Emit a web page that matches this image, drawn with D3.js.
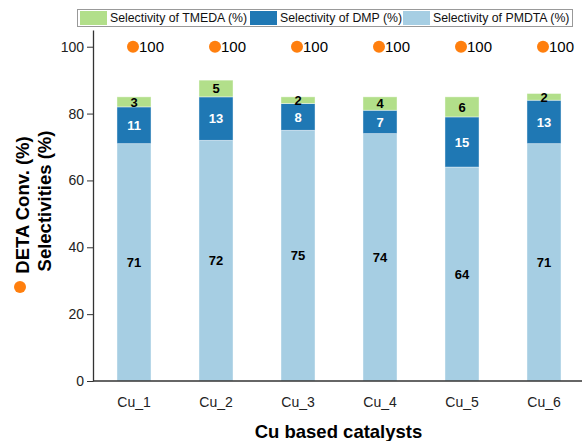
<!DOCTYPE html>
<html>
<head>
<meta charset="utf-8">
<script src="https://cdn.jsdelivr.net/npm/d3@7"></script>
<style>
  body { margin: 0; background: #fff; }
  text { font-family: "Liberation Sans", Arial, sans-serif; }
</style>
</head>
<body>
<script>
// chart size
const w = 582;
const h = 441;

// data
const catalysts = ["Cu_1", "Cu_2", "Cu_3", "Cu_4", "Cu_5", "Cu_6"];
const pmdta = [71, 72, 75, 74, 64, 71];
const dmp = [11, 13, 8, 7, 15, 13];
const tmeda = [3, 5, 2, 4, 6, 2];
const conversion = [100, 100, 100, 100, 100, 100];
const yTicks = [0, 20, 40, 60, 80, 100];

const seriesNames = ["Selectivity of TMEDA (%)", "Selectivity of DMP (%)", "Selectivity of PMDTA (%)"];
const seriesColors = ["#b2df8a", "#1f78b4", "#a6cee3"];

// plot edges
const padLeft = 93, padRight = 585, padTop = 30, padBottom = 381;

const svg = d3.select("body").append("svg")
    .attr("width", w)
    .attr("height", h);

// scales
const x = d3.scaleBand()
    .domain(catalysts)
    .range([padLeft, padRight])
    .paddingInner(0.585)
    .paddingOuter(0.2925);

const y = d3.scaleLinear()
    .domain([0, 105])
    .range([padBottom, padTop]);

// stack the three series
const rows = catalysts.map((c, i) => ({ cat: c, pmdta: pmdta[i], dmp: dmp[i], tmeda: tmeda[i] }));
const stack = d3.stack().keys(["pmdta", "dmp", "tmeda"])(rows);
const colorOf = { pmdta: "#a6cee3", dmp: "#1f78b4", tmeda: "#b2df8a" };
const labelColor = { pmdta: "#000", dmp: "#fff", tmeda: "#000" };

const layers = svg.selectAll("g.layer")
    .data(stack)
    .enter()
    .append("g")
    .attr("class", "layer")
    .attr("fill", d => colorOf[d.key]);

layers.selectAll("rect")
    .data(d => d)
    .enter()
    .append("rect")
    .attr("x", d => x(d.data.cat))
    .attr("y", d => y(d[1]))
    .attr("width", x.bandwidth())
    .attr("height", d => y(d[0]) - y(d[1]))
    .attr("stroke", "#ffffff")
    .attr("stroke-opacity", 0.5)
    .attr("stroke-width", 0.8);

// value labels inside segments
stack.forEach(layer => {
    svg.selectAll(null)
        .data(layer)
        .enter()
        .append("text")
        .attr("x", d => x(d.data.cat) + x.bandwidth() / 2)
        .attr("y", d => y((d[0] + d[1]) / 2))
        .attr("dy", "0.36em")
        .attr("text-anchor", "middle")
        .attr("font-size", 13)
        .attr("font-weight", "bold")
        .attr("fill", labelColor[layer.key])
        .text(d => d[1] - d[0]);
});

// conversion points
svg.selectAll("circle.conv")
    .data(conversion)
    .enter()
    .append("circle")
    .attr("class", "conv")
    .attr("cx", (d, i) => x(catalysts[i]) + x.bandwidth() / 2 - 1)
    .attr("cy", d => y(d))
    .attr("r", 6)
    .attr("fill", "#ff7f0e");

svg.selectAll("text.conv")
    .data(conversion)
    .enter()
    .append("text")
    .attr("class", "conv")
    .attr("x", (d, i) => x(catalysts[i]) + x.bandwidth() / 2 + 5)
    .attr("y", d => y(d))
    .attr("dy", "0.36em")
    .attr("font-size", 15)
    .attr("fill", "#000")
    .text(d => d);

// axes
const yAxis = svg.append("g")
    .attr("transform", `translate(${padLeft},0)`)
    .call(d3.axisLeft(y).tickValues(yTicks).tickSize(6).tickSizeOuter(0));
yAxis.select(".domain").attr("stroke", "#333").attr("stroke-width", 1.3);
yAxis.selectAll(".tick line").attr("stroke", "#333");
yAxis.selectAll(".tick text").attr("font-size", 14).attr("fill", "#222")
    .attr("font-family", "Liberation Sans, Arial, sans-serif");

const xAxis = svg.append("g")
    .attr("transform", `translate(0,${padBottom})`)
    .call(d3.axisBottom(x).tickSize(0).tickPadding(16));
xAxis.select(".domain").attr("stroke", "#333").attr("stroke-width", 1.3)
    .attr("d", `M${padLeft},0H${w}`);
xAxis.selectAll(".tick text").attr("font-size", 14).attr("fill", "#222")
    .attr("font-family", "Liberation Sans, Arial, sans-serif");

// axis titles
svg.append("text")
    .attr("x", 338.5)
    .attr("y", 438)
    .attr("text-anchor", "middle")
    .attr("font-size", 18.5)
    .attr("font-weight", "bold")
    .text("Cu based catalysts");

svg.append("text")
    .attr("transform", "translate(50.5,201) rotate(-90)")
    .attr("text-anchor", "middle")
    .attr("font-size", 18.5)
    .attr("font-weight", "bold")
    .text("Selectivities (%)");

svg.append("text")
    .attr("transform", "translate(28.5,205) rotate(-90)")
    .attr("text-anchor", "middle")
    .attr("font-size", 18.5)
    .attr("font-weight", "bold")
    .text("DETA Conv. (%)");

svg.append("circle")
    .attr("cx", 20)
    .attr("cy", 287)
    .attr("r", 6)
    .attr("fill", "#ff7f0e");

// legend
const legend = svg.append("g");
legend.append("rect")
    .attr("x", 77.5).attr("y", 9.5)
    .attr("width", 495).attr("height", 17)
    .attr("fill", "#fff")
    .attr("stroke", "#999");

const legendX = [80, 250, 403];
seriesNames.forEach((name, i) => {
    legend.append("rect")
        .attr("x", legendX[i]).attr("y", 11)
        .attr("width", 27).attr("height", 14)
        .attr("fill", seriesColors[i]);
    legend.append("text")
        .attr("x", legendX[i] + 30).attr("y", 18)
        .attr("dy", "0.36em")
        .attr("font-size", 12.3)
        .attr("fill", "#111")
        .text(name);
});
</script>
</body>
</html>
